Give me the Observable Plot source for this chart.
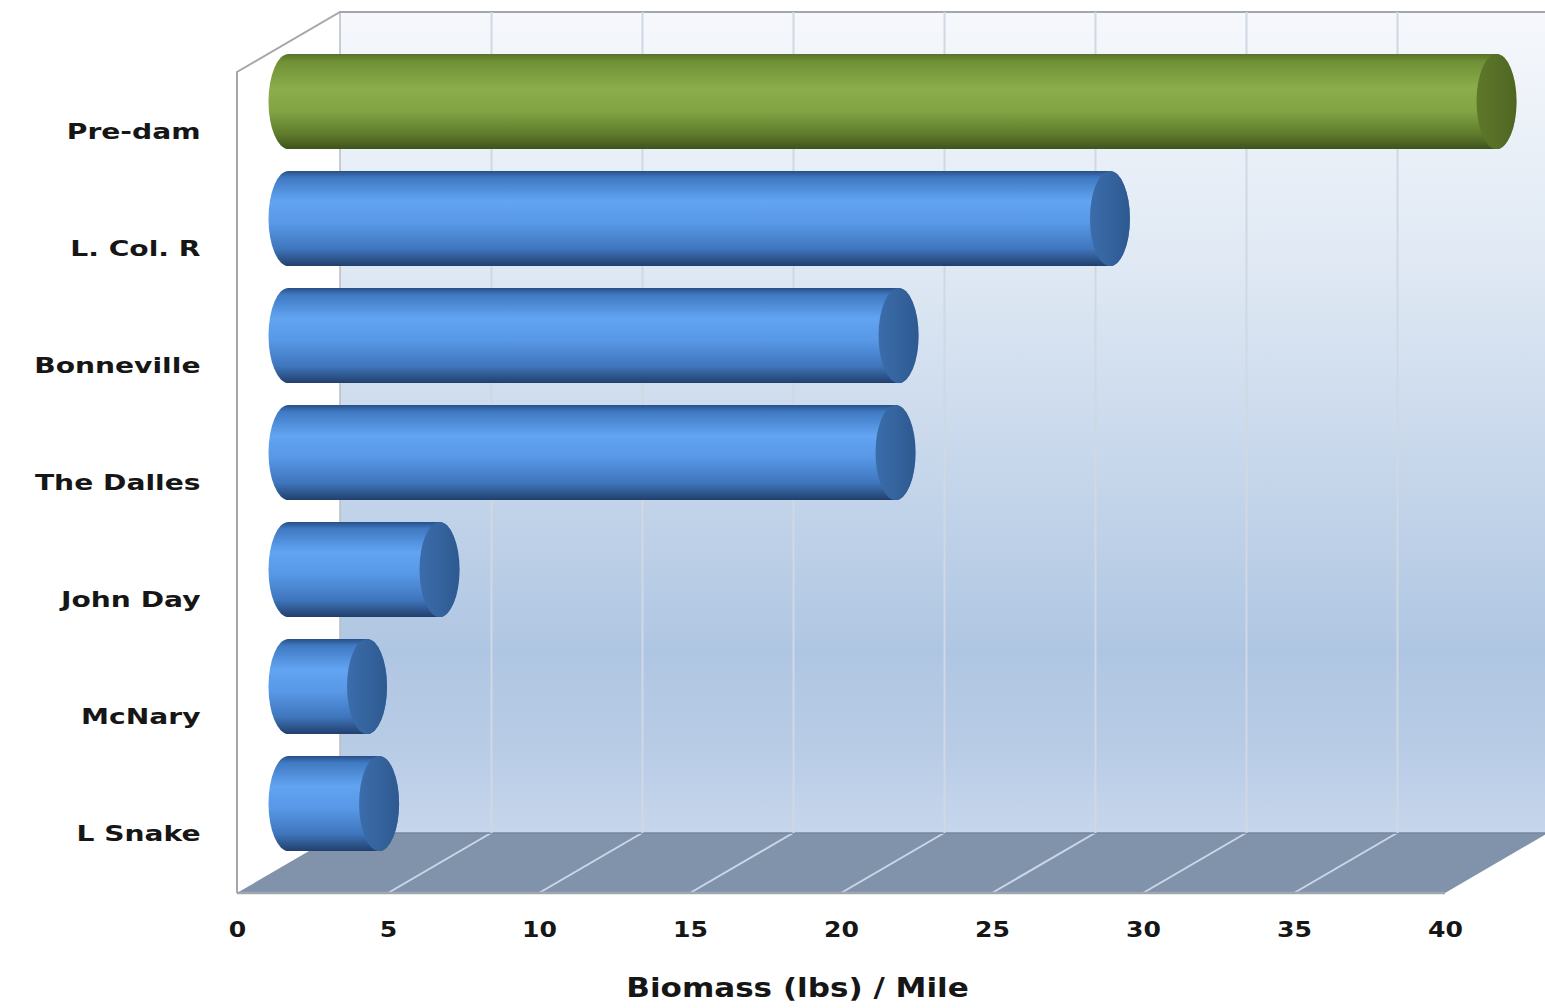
<!DOCTYPE html>
<html>
<head>
<meta charset="utf-8">
<script src="https://cdn.jsdelivr.net/npm/d3@7"></script>
<script src="https://cdn.jsdelivr.net/npm/@observablehq/plot@0.6"></script>
<style>
  html, body { margin: 0; padding: 0; background: #fff; }
  #chart svg { display: block; }
</style>
</head>
<body>
<div id="chart"></div>
<script>
// Biomass per river mile, before the dams and in each reach today
const sites = ["Pre-dam", "L. Col. R", "Bonneville", "The Dalles", "John Day", "McNary", "L Snake"];
const biomass = [40, 27.2, 20.2, 20.1, 5.0, 2.6, 3.0];
const era = ["historic", "current", "current", "current", "current", "current", "current"];
const xTicks = [0, 5, 10, 15, 20, 25, 30, 35, 40];
const xTitle = "Biomass (lbs) / Mile";

const rows = sites.map((site, i) => ({site, biomass: biomass[i], era: era[i]}));

// pseudo-3D depth of the chart box (back wall) and of the cylinder axes (mid depth)
const DEPTH_X = 103, DEPTH_Y = -60;
const MID_X = DEPTH_X / 2, MID_Y = DEPTH_Y / 2;
const CAP_RX = 20;

// gradients for the wall and the cylinders
function defs() {
  const d = d3.create("svg:defs");
  const grad = (id, stops, horizontal = false) => {
    const g = d.append("linearGradient").attr("id", id)
      .attr("x1", 0).attr("y1", 0).attr("x2", horizontal ? 1 : 0).attr("y2", horizontal ? 0 : 1);
    for (const [o, c] of stops) g.append("stop").attr("offset", o).attr("stop-color", c);
  };
  grad("wallFill", [[0, "#f6f8fc"], [0.3, "#e0e9f4"], [0.58, "#c4d5ea"], [0.78, "#afc6e2"], [0.9, "#b9cce6"], [1, "#c6d6ec"]]);
  grad("blueBody", [[0, "#284f86"], [0.07, "#3f79c2"], [0.32, "#62a4f2"], [0.55, "#5898e6"], [0.82, "#3f76bd"], [1, "#223f6c"]]);
  grad("blueCap", [[0, "#3b6dab"], [1, "#2e5990"]], true);
  grad("greenBody", [[0, "#587228"], [0.08, "#6f9035"], [0.36, "#8bad4b"], [0.6, "#82a443"], [0.84, "#607c2d"], [1, "#3f531b"]]);
  grad("greenCap", [[0, "#5e782a"], [1, "#4f6622"]], true);
  return d.node();
}

// side wall, back wall, floor and the floor's grid, laid out on the x scale
function box(index, {x}, values, dims) {
  const {height, marginTop, marginBottom} = dims;
  const x0 = x(xTicks[0]), x1 = x(xTicks[xTicks.length - 1]);
  const top = marginTop, bottom = height - marginBottom;
  const g = d3.create("svg:g");
  g.append("path")
    .attr("d", `M${x0},${bottom}V${top}l${DEPTH_X},${DEPTH_Y}V${bottom + DEPTH_Y}Z`)
    .attr("fill", "#ffffff");
  g.append("rect")
    .attr("x", x0 + DEPTH_X).attr("y", top + DEPTH_Y)
    .attr("width", x1 - x0).attr("height", bottom - top)
    .attr("fill", "url(#wallFill)");
  g.append("path")
    .attr("d", `M${x0},${bottom}H${x1}l${DEPTH_X},${DEPTH_Y}H${x0 + DEPTH_X}Z`)
    .attr("fill", "#8193ab");
  for (const t of xTicks.slice(1, -1)) {
    g.append("line")
      .attr("x1", x(t)).attr("y1", bottom)
      .attr("x2", x(t) + DEPTH_X).attr("y2", bottom + DEPTH_Y)
      .attr("stroke", "#cbd7e8").attr("stroke-width", 2);
  }
  const edge = (d, c, w = 2) => g.append("path").attr("d", d).attr("fill", "none").attr("stroke", c).attr("stroke-width", w);
  edge(`M${x0 + DEPTH_X},${top + DEPTH_Y}V${bottom + DEPTH_Y}`, "#b9bec6", 1.5);
  edge(`M${x0 + DEPTH_X},${bottom + DEPTH_Y}H${x1 + DEPTH_X}`, "#76869c", 1.5);
  edge(`M${x0},${bottom}V${top}l${DEPTH_X},${DEPTH_Y}H${x1 + DEPTH_X}`, "#a4a7ab", 2);
  edge(`M${x0},${bottom}H${x1}`, "#9ea6b0", 2.5);
  return g.node();
}

const cylinder = (kind) => [
  Plot.barX(rows, {
    filter: d => d.era === kind,
    x: "biomass", y: "site",
    fill: kind === "historic" ? "url(#greenBody)" : "url(#blueBody)",
    insetLeft: -CAP_RX, insetRight: -CAP_RX, rx: CAP_RX, ry: 48,
    dx: MID_X, dy: MID_Y
  }),
  Plot.barX(rows, {
    filter: d => d.era === kind,
    x1: "biomass", x2: "biomass", y: "site",
    fill: kind === "historic" ? "url(#greenCap)" : "url(#blueCap)",
    insetLeft: -CAP_RX, insetRight: -CAP_RX, rx: CAP_RX, ry: 48,
    dx: MID_X, dy: MID_Y
  })
];

const chart = Plot.plot({
  width: 1545,
  height: 1008,
  marginLeft: 237,
  marginRight: 100,
  marginTop: 72,
  marginBottom: 115,
  x: {domain: [xTicks[0], xTicks[xTicks.length - 1]]},
  y: {domain: sites, paddingInner: 0.19, paddingOuter: 0.095},
  style: {fontFamily: "'DejaVu Sans', Verdana, sans-serif", color: "#161616", background: "#ffffff", overflow: "visible"},
  marks: [
    defs,
    box,
    Plot.ruleX(xTicks.slice(1), {dx: DEPTH_X, dy: DEPTH_Y, stroke: "#d0d8e3", strokeWidth: 2}),
    ...cylinder("historic"),
    ...cylinder("current"),
    Plot.axisX(xTicks, {tickSize: 0, tickPadding: 28, fontSize: 22, fontWeight: "bold", label: null}),
    Plot.axisY({tickSize: 0, tickPadding: 37, fontSize: 22, fontWeight: "bold", label: null}),
    Plot.text([xTitle], {text: d => d, frameAnchor: "bottom", lineAnchor: "bottom", dx: -44, dy: 103, fontSize: 27, fontWeight: "bold"})
  ]
});

// widen the lettering horizontally, keeping each label's anchor in place
const stretch = (selector, k) => chart.querySelectorAll(selector).forEach(t => {
  t.setAttribute("transform", `${t.getAttribute("transform") || ""} scale(${k},1)`);
});
stretch('g[aria-label="y-axis tick label"] text', 1.28);
stretch('g[aria-label="x-axis tick label"] text', 1.14);
stretch('g[aria-label="text"] text', 1.15);

document.getElementById("chart").append(chart);
</script>
</body>
</html>
